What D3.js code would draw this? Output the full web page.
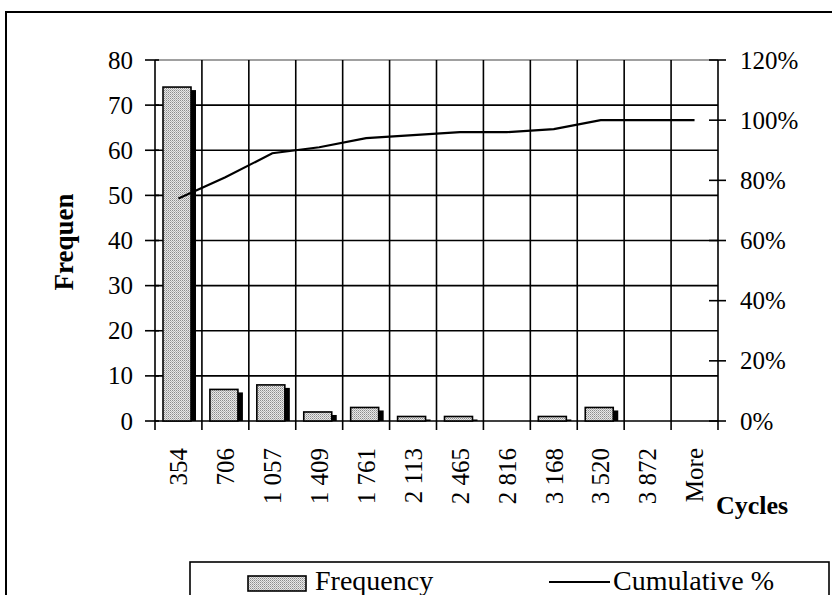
<!DOCTYPE html>
<html>
<head>
<meta charset="utf-8">
<script src="https://cdn.jsdelivr.net/npm/d3@7"></script>
<style>
  body { margin: 0; background: #fff; }
  text { font-family: "Liberation Serif", "Times New Roman", serif; fill: #000; }
</style>
</head>
<body>
<svg width="832" height="595"></svg>
<script>
// histogram data
var categories = ["354", "706", "1 057", "1 409", "1 761", "2 113", "2 465", "2 816", "3 168", "3 520", "3 872", "More"];
var frequency = [74, 7, 8, 2, 3, 1, 1, 0, 1, 3, 0, 0];
var cumulative = [74, 81, 89, 91, 94, 95, 96, 96, 97, 100, 100, 100];
var leftTicks = [0, 10, 20, 30, 40, 50, 60, 70, 80];
var rightTicks = [0, 20, 40, 60, 80, 100, 120];

var svg = d3.select("svg");

var x0 = 155, x1 = 718, yTop = 60, yBot = 421;

var x = d3.scaleBand().domain(categories).range([x0, x1]);
var y = d3.scaleLinear().domain([0, 80]).range([yBot, yTop]);
var y2 = d3.scaleLinear().domain([0, 120]).range([yBot, yTop]);

// stipple pattern for the bars
var defs = svg.append("defs");
var pat = defs.append("pattern")
    .attr("id", "stip")
    .attr("width", 2).attr("height", 2)
    .attr("patternUnits", "userSpaceOnUse");
pat.append("rect").attr("width", 2).attr("height", 2).attr("fill", "#e8e8e8");
pat.append("rect").attr("width", 1).attr("height", 1).attr("fill", "#8c8c8c");
pat.append("rect").attr("x", 1).attr("y", 1).attr("width", 1).attr("height", 1).attr("fill", "#b4b4b4");

// outer chart border
svg.append("rect")
    .attr("x", 6).attr("y", 12)
    .attr("width", 840).attr("height", 600)
    .attr("fill", "none").attr("stroke", "#000").attr("stroke-width", 2);

// horizontal gridlines
svg.append("g").selectAll("line")
    .data(leftTicks)
    .enter().append("line")
    .attr("x1", x0).attr("x2", x1)
    .attr("y1", function(d) { return y(d); })
    .attr("y2", function(d) { return y(d); })
    .attr("stroke", function(d) { return d == 80 ? "#808080" : "#000"; })
    .attr("stroke-width", 1.6);

// vertical gridlines (category boundaries), ticks below axis
var bounds = categories.map(function(c) { return x(c); }).concat([x1]);
svg.append("g").selectAll("line")
    .data(bounds)
    .enter().append("line")
    .attr("x1", function(d) { return d; })
    .attr("x2", function(d) { return d; })
    .attr("y1", yTop).attr("y2", yBot + 9)
    .attr("stroke", "#000").attr("stroke-width", 1.6);

// left axis
var yAxis = d3.axisLeft(y).tickValues(leftTicks).tickSize(0).tickPadding(22);
var ga = svg.append("g").attr("transform", "translate(" + x0 + ",0)").call(yAxis);
ga.select(".domain").remove();
ga.selectAll("text").style("font-size", "25px").style("font-family", "Liberation Serif");
svg.append("g").selectAll("line")
    .data(leftTicks)
    .enter().append("line")
    .attr("x1", x0 - 10).attr("x2", x0 + 4)
    .attr("y1", function(d) { return y(d); })
    .attr("y2", function(d) { return y(d); })
    .attr("stroke", "#000").attr("stroke-width", 1.6);

// right axis
var yAxis2 = d3.axisRight(y2).tickValues(rightTicks).tickSize(0).tickPadding(22)
    .tickFormat(function(d) { return d + "%"; });
var gb = svg.append("g").attr("transform", "translate(" + x1 + ",0)").call(yAxis2);
gb.select(".domain").remove();
gb.selectAll("text").style("font-size", "25px").style("font-family", "Liberation Serif");
svg.append("g").selectAll("line")
    .data(rightTicks)
    .enter().append("line")
    .attr("x1", x1 - 9).attr("x2", x1 + 8)
    .attr("y1", function(d) { return y2(d); })
    .attr("y2", function(d) { return y2(d); })
    .attr("stroke", "#000").attr("stroke-width", 1.6);

// bars with drop shadow
var bw = 28, boff = 8;
var barG = svg.append("g");
frequency.forEach(function(v, i) {
    if (v <= 0) return;
    var bx = x(categories[i]) + boff;
    barG.append("rect")
        .attr("x", bx + 5).attr("y", y(v) + 3)
        .attr("width", bw).attr("height", yBot - y(v) - 3)
        .attr("fill", "#000");
    barG.append("rect")
        .attr("x", bx).attr("y", y(v))
        .attr("width", bw).attr("height", yBot - y(v))
        .attr("fill", "url(#stip)")
        .attr("stroke", "#000").attr("stroke-width", 1.6);
});

// cumulative line
var line = d3.line()
    .x(function(d, i) { return x(categories[i]) + x.bandwidth() / 2; })
    .y(function(d) { return y2(d); });
svg.append("path")
    .datum(cumulative)
    .attr("d", line)
    .attr("fill", "none").attr("stroke", "#000").attr("stroke-width", 2.2);

// x tick labels, rotated
svg.append("g").selectAll("text")
    .data(categories)
    .enter().append("text")
    .attr("transform", function(d) {
        return "translate(" + (x(d) + x.bandwidth() / 2) + ",448) rotate(-90)";
    })
    .attr("text-anchor", "end")
    .attr("dy", "0.35em")
    .style("font-size", "25px")
    .text(function(d) { return d; });

// axis titles
svg.append("text")
    .attr("transform", "translate(64,242) rotate(-90)")
    .attr("text-anchor", "middle")
    .attr("dy", "0.35em")
    .style("font-size", "27px").style("font-weight", "bold")
    .text("Frequen");

svg.append("text")
    .attr("x", 716).attr("y", 514)
    .style("font-size", "26px").style("font-weight", "bold")
    .text("Cycles");

// legend
var lg = svg.append("g");
lg.append("rect")
    .attr("x", 190).attr("y", 562)
    .attr("width", 639).attr("height", 60)
    .attr("fill", "#fff").attr("stroke", "#000").attr("stroke-width", 1.6);
lg.append("rect")
    .attr("x", 248).attr("y", 576)
    .attr("width", 58).attr("height", 15)
    .attr("fill", "url(#stip)").attr("stroke", "#000").attr("stroke-width", 1.6);
lg.append("text")
    .attr("x", 315).attr("y", 590)
    .style("font-size", "28px")
    .text("Frequency");
lg.append("line")
    .attr("x1", 549).attr("x2", 610)
    .attr("y1", 582).attr("y2", 582)
    .attr("stroke", "#000").attr("stroke-width", 2);
lg.append("text")
    .attr("x", 613).attr("y", 590)
    .style("font-size", "28px")
    .text("Cumulative %");
</script>
</body>
</html>
